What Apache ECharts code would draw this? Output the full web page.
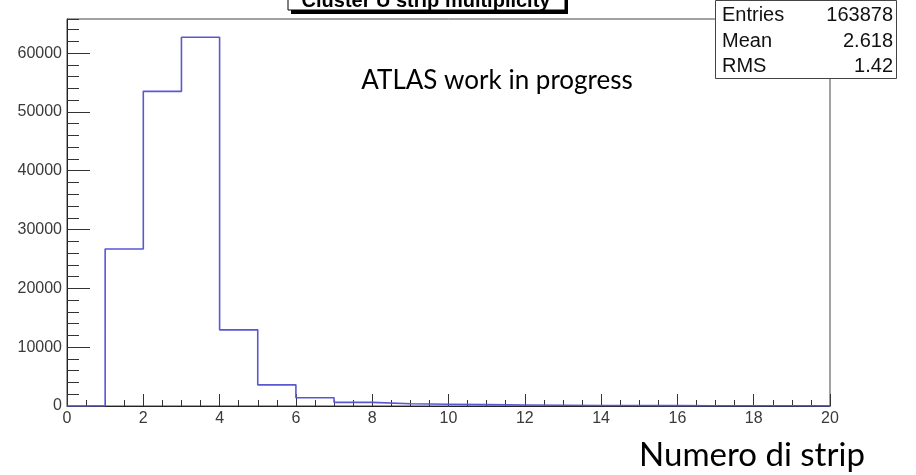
<!DOCTYPE html>
<html>
<head>
<meta charset="utf-8">
<script src="https://cdn.jsdelivr.net/npm/echarts@6/dist/echarts.min.js"></script>
<style>
  html, body { margin: 0; padding: 0; background: #fff; }
  #chart { width: 916px; height: 475px; }
</style>
</head>
<body>
<div id="chart"></div>
<script>
// Strip multiplicity histogram: bin lower edges and counts per unit bin
const binEdges = [0, 1, 2, 3, 4, 5, 6, 7, 8, 9, 10, 11, 12, 13, 14, 15, 16, 17, 18, 19, 20];
const binCounts = [0, 26700, 53500, 62700, 12950, 3600, 1400, 620, 390, 300, 230, 170, 120, 95, 75, 60, 50, 40, 35, 28];

const histTitle = 'Cluster U strip multiplicity';
const statLabels = ['Entries', 'Mean', 'RMS'];
const statValues = ['163878', '2.618', '1.42'];
const noteText = 'ATLAS work in progress';
const xTitle = 'Numero di strip';

const xTicks = { min: 0, max: 20, major: 2, minor: 0.5 };
const yTicks = { min: 0, max: 65800, major: 10000, minor: 2000 };

// step outline: each bin's left edge carries its count, closed at the last edge
const outline = binCounts.map((c, i) => [binEdges[i], c]);
outline.push([binEdges[binEdges.length - 1], binCounts[binCounts.length - 1]]);

const chart = echarts.init(document.getElementById('chart'), null, { renderer: 'canvas' });

const labelFont = { fontFamily: 'Liberation Sans', fontSize: 16, color: '#3a3a3a' };
const tickColor = '#333';

chart.setOption({
  animation: false,
  backgroundColor: '#fff',
  grid: {
    left: 67, right: 86, top: 19, bottom: 69,
    show: true, borderColor: '#444', borderWidth: 1, backgroundColor: 'transparent'
  },
  xAxis: [
    {
      type: 'value', min: xTicks.min, max: xTicks.max, interval: xTicks.major,
      axisLine: { show: true, lineStyle: { color: '#222', width: 1 } },
      axisTick: { show: true, inside: true, length: 12, lineStyle: { color: tickColor } },
      axisLabel: Object.assign({ margin: 5 }, labelFont),
      splitLine: { show: false }
    },
    {
      type: 'value', min: xTicks.min, max: xTicks.max, interval: xTicks.minor,
      position: 'bottom', offset: 0,
      axisLine: { show: false },
      axisTick: { show: true, inside: true, length: 6, lineStyle: { color: tickColor } },
      axisLabel: { show: false },
      splitLine: { show: false }
    }
  ],
  yAxis: [
    {
      type: 'value', min: yTicks.min, max: yTicks.max, interval: yTicks.major,
      axisLine: { show: true, lineStyle: { color: '#222', width: 1 } },
      axisTick: { show: true, inside: true, length: 23, lineStyle: { color: tickColor } },
      axisLabel: Object.assign({ margin: 5, showMaxLabel: false, formatter: v => String(v) }, labelFont),
      splitLine: { show: false }
    },
    {
      type: 'value', min: yTicks.min, max: yTicks.max, interval: yTicks.minor,
      position: 'left', offset: 0,
      axisLine: { show: false },
      axisTick: { show: true, inside: true, length: 12, lineStyle: { color: tickColor } },
      axisLabel: { show: false },
      splitLine: { show: false }
    }
  ],
  series: [
    {
      type: 'line',
      xAxisIndex: 0, yAxisIndex: 0,
      data: outline,
      step: 'end',
      showSymbol: false,
      symbol: 'none',
      lineStyle: { color: '#5858d2', width: 1.6 },
      z: 3
    }
  ],
  graphic: [
    // title pave with drop shadow, partly above the canvas edge
    { type: 'rect', shape: { x: 291, y: -10, width: 277, height: 24 }, style: { fill: '#000' }, z: 10 },
    { type: 'rect', shape: { x: 288, y: -13, width: 277, height: 23 }, style: { fill: '#fff', stroke: '#000', lineWidth: 1 }, z: 11 },
    { type: 'text', x: 426, y: 11, style: { text: histTitle, fontFamily: 'Liberation Sans', fontWeight: 'bold', fontSize: 20, fill: '#000', align: 'center', verticalAlign: 'bottom' }, z: 12 },
    // statistics box
    { type: 'rect', shape: { x: 715.5, y: 0.5, width: 181, height: 78 }, style: { fill: '#fff', stroke: '#444', lineWidth: 1 }, z: 10 },
    ...statLabels.map((t, i) => ({
      type: 'text', x: 722, y: 15.5 + i * 25.6,
      style: { text: t, fontFamily: 'Liberation Sans', fontSize: 20, fill: '#111', align: 'left', verticalAlign: 'middle' }, z: 12
    })),
    ...statValues.map((t, i) => ({
      type: 'text', x: 893, y: 15.5 + i * 25.6,
      style: { text: t, fontFamily: 'Liberation Sans', fontSize: 20, fill: '#111', align: 'right', verticalAlign: 'middle' }, z: 12
    })),
    // annotations
    { type: 'text', x: 497, y: 81, style: { text: noteText, fontFamily: 'Lato', fontSize: 26, fill: '#000', align: 'center', verticalAlign: 'middle' }, z: 12 },
    { type: 'text', x: 752, y: 455, style: { text: xTitle, fontFamily: 'Lato', fontSize: 33, fill: '#000', align: 'center', verticalAlign: 'middle' }, z: 12 }
  ]
});
</script>
</body>
</html>
